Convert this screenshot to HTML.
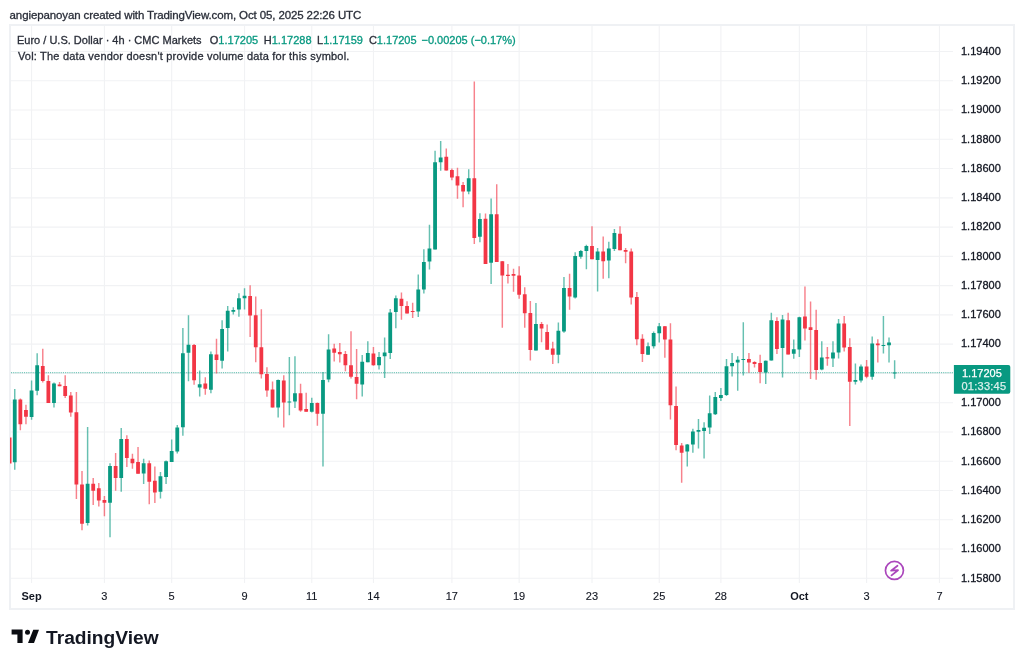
<!DOCTYPE html>
<html><head><meta charset="utf-8"><style>
html,body{margin:0;padding:0;background:#fff;width:1024px;height:665px;overflow:hidden}
svg{position:absolute;left:0;top:0;will-change:transform;font-family:"Liberation Sans",sans-serif}
</style></head><body>
<svg width="1024" height="665" viewBox="0 0 1024 665">
<rect x="0" y="0" width="1024" height="665" fill="#ffffff"/>
<rect x="10" y="25" width="1004" height="584" fill="#ffffff" stroke="#eff1f4" stroke-width="2"/>
<text x="9.6" y="18.6" font-size="11.5" letter-spacing="-0.115" fill="#2a2e39" stroke="#2a2e39" stroke-width="0.3">angiepanoyan created with TradingView.com, Oct 05, 2025 22:26 UTC</text>
<g stroke="#f1f2f4" stroke-width="1.1"><line x1="11" y1="51.50" x2="953" y2="51.50"/><line x1="11" y1="80.77" x2="953" y2="80.77"/><line x1="11" y1="110.03" x2="953" y2="110.03"/><line x1="11" y1="139.30" x2="953" y2="139.30"/><line x1="11" y1="168.57" x2="953" y2="168.57"/><line x1="11" y1="197.83" x2="953" y2="197.83"/><line x1="11" y1="227.10" x2="953" y2="227.10"/><line x1="11" y1="256.37" x2="953" y2="256.37"/><line x1="11" y1="285.63" x2="953" y2="285.63"/><line x1="11" y1="314.90" x2="953" y2="314.90"/><line x1="11" y1="344.17" x2="953" y2="344.17"/><line x1="11" y1="373.43" x2="953" y2="373.43"/><line x1="11" y1="402.70" x2="953" y2="402.70"/><line x1="11" y1="431.97" x2="953" y2="431.97"/><line x1="11" y1="461.23" x2="953" y2="461.23"/><line x1="11" y1="490.50" x2="953" y2="490.50"/><line x1="11" y1="519.77" x2="953" y2="519.77"/><line x1="11" y1="549.03" x2="953" y2="549.03"/><line x1="11" y1="578.30" x2="953" y2="578.30"/><line x1="31.56" y1="26" x2="31.56" y2="583"/><line x1="104.42" y1="26" x2="104.42" y2="583"/><line x1="171.67" y1="26" x2="171.67" y2="583"/><line x1="244.53" y1="26" x2="244.53" y2="583"/><line x1="311.78" y1="26" x2="311.78" y2="583"/><line x1="373.43" y1="26" x2="373.43" y2="583"/><line x1="451.89" y1="26" x2="451.89" y2="583"/><line x1="519.14" y1="26" x2="519.14" y2="583"/><line x1="591.99" y1="26" x2="591.99" y2="583"/><line x1="659.24" y1="26" x2="659.24" y2="583"/><line x1="720.89" y1="26" x2="720.89" y2="583"/><line x1="799.35" y1="26" x2="799.35" y2="583"/><line x1="866.60" y1="26" x2="866.60" y2="583"/><line x1="939.46" y1="26" x2="939.46" y2="583"/></g>
<line x1="11" y1="372.71" x2="953" y2="372.71" stroke="#089981" stroke-width="1" stroke-dasharray="0.93 0.93" stroke-opacity="0.75"/>
<path d="M14.75 388.9V469.8 M31.56 380.6V419.7 M37.17 353.2V395.3 M53.98 382.4V407.4 M87.61 426.9V525.5 M110.02 463.3V537.3 M121.23 428.1V491.7 M143.65 458.8V484.1 M160.46 472.0V498.5 M166.07 460.6V484.1 M171.67 439.5V461.9 M177.27 425.0V453.4 M182.88 328.0V435.7 M188.48 315.3V381.2 M199.69 370.4V396.6 M210.90 351.4V393.3 M222.11 320.2V368.6 M227.71 306.0V351.4 M233.32 307.3V314.6 M238.92 293.3V316.7 M244.53 288.2V309.6 M278.15 379.5V417.4 M289.36 357.0V415.3 M294.97 356.3V407.9 M311.78 397.8V412.5 M322.99 372.1V466.4 M328.59 334.2V382.2 M362.22 355.0V396.6 M367.82 341.3V362.2 M379.03 352.0V369.6 M384.63 337.4V378.0 M390.24 309.1V358.9 M395.84 295.4V328.2 M418.26 274.4V316.9 M423.86 249.2V293.4 M429.47 224.8V269.5 M435.07 150.8V249.6 M440.68 141.0V170.8 M468.70 169.2V194.3 M479.91 213.3V242.3 M491.12 198.5V283.9 M535.95 302.9V350.5 M558.37 322.4V363.3 M563.97 276.9V332.7 M575.18 252.2V298.5 M580.78 250.1V258.8 M586.39 244.8V269.3 M597.60 248.1V291.4 M608.81 241.8V278.2 M614.41 229.1V251.1 M648.04 342.5V354.8 M653.64 331.6V348.6 M659.24 323.0V342.5 M687.27 444.0V466.6 M692.87 428.7V452.7 M698.47 419.1V448.5 M704.08 422.3V458.4 M709.68 395.6V434.1 M715.29 392.0V415.1 M720.89 388.1V401.0 M726.50 359.1V396.0 M732.10 353.0V376.4 M737.70 356.2V390.7 M743.31 322.3V375.4 M765.73 360.5V383.9 M771.33 312.8V360.5 M782.54 315.1V377.4 M793.75 339.4V358.7 M799.35 316.8V357.0 M821.77 341.3V370.2 M832.98 341.3V366.9 M838.58 318.9V358.6 M855.40 363.5V384.6 M861.00 364.4V382.6 M872.21 336.6V379.7 M883.42 315.9V353.5 M889.02 337.4V362.6 M894.63 360.3V378.8" stroke="#089981" stroke-width="1.45" stroke-opacity="0.62" fill="none"/><path d="M20.35 398.6V430.2 M25.96 404.7V424.2 M42.77 348.7V382.4 M48.38 375.3V402.9 M59.58 382.1V386.3 M65.19 375.3V397.9 M70.79 391.9V416.7 M76.40 391.9V499.1 M82.00 471.0V530.3 M93.21 477.9V504.9 M98.81 482.9V506.5 M104.42 496.1V516.3 M115.63 453.0V490.8 M126.84 435.3V466.9 M132.44 453.8V468.7 M138.04 447.1V473.8 M149.25 460.6V504.3 M154.86 466.6V503.0 M194.09 343.9V384.8 M205.30 377.3V394.8 M216.50 338.8V373.6 M250.13 285.2V337.0 M255.73 296.4V362.3 M261.34 309.2V378.4 M266.94 367.3V396.8 M272.55 381.6V407.5 M283.76 375.3V427.5 M300.57 383.7V411.7 M306.17 392.7V411.7 M317.38 402.6V425.8 M334.20 343.7V361.6 M339.80 343.0V362.6 M345.40 351.0V371.2 M351.01 331.3V378.4 M356.61 349.0V399.2 M373.43 347.1V365.7 M401.45 292.5V319.8 M407.05 301.3V313.4 M412.66 302.8V317.9 M446.28 148.4V170.6 M451.89 168.4V180.2 M457.49 167.8V198.8 M463.09 182.0V207.2 M474.30 81.6V244.0 M485.51 213.4V263.9 M496.72 184.2V262.0 M502.32 260.9V327.7 M507.93 264.1V283.4 M513.53 268.7V291.7 M519.14 266.3V298.8 M524.74 287.2V327.7 M530.35 301.0V360.5 M541.55 321.9V342.3 M547.16 324.4V349.7 M552.76 341.8V364.1 M569.58 273.8V309.8 M591.99 226.3V259.3 M603.20 236.5V278.7 M620.01 226.3V250.2 M625.62 248.1V263.3 M631.22 248.4V304.4 M636.83 291.9V345.3 M642.43 334.3V361.9 M664.85 326.0V357.7 M670.45 323.3V419.6 M676.06 386.6V450.3 M681.66 443.1V482.8 M748.91 353.0V372.7 M754.52 361.2V367.5 M760.12 354.8V383.2 M776.93 317.2V354.0 M788.14 312.8V354.4 M804.96 286.6V340.4 M810.56 301.5V379.0 M816.16 309.8V379.7 M827.37 347.1V365.8 M844.19 316.1V351.5 M849.79 338.3V426.0 M866.60 360.0V378.3 M877.81 339.3V362.6" stroke="#F23645" stroke-width="1.45" stroke-opacity="0.62" fill="none"/><path d="M12.85 399.4h3.8v62.8h-3.8z M29.66 390.4h3.8v26.6h-3.8z M35.27 365.3h3.8v25.5h-3.8z M52.08 383.6h3.8v19.3h-3.8z M85.71 483.7h3.8v39.2h-3.8z M108.12 466.0h3.8v36.7h-3.8z M119.33 439.0h3.8v39.1h-3.8z M141.75 463.3h3.8v10.3h-3.8z M158.56 476.3h3.8v15.5h-3.8z M164.17 461.2h3.8v15.7h-3.8z M169.77 451.0h3.8v10.9h-3.8z M175.37 427.6h3.8v24.0h-3.8z M180.98 353.2h3.8v74.0h-3.8z M186.58 344.8h3.8v7.9h-3.8z M197.79 384.3h3.8v3.2h-3.8z M209.00 354.2h3.8v35.5h-3.8z M220.21 328.9h3.8v31.9h-3.8z M225.81 310.7h3.8v17.3h-3.8z M231.42 310.0h3.8v1.8h-3.8z M237.02 298.2h3.8v11.4h-3.8z M242.63 295.7h3.8v2.6h-3.8z M276.25 380.1h3.8v27.4h-3.8z M287.46 401.6h3.8v1.0h-3.8z M293.07 393.2h3.8v8.4h-3.8z M309.88 403.1h3.8v8.6h-3.8z M321.09 380.1h3.8v33.7h-3.8z M326.69 349.4h3.8v30.1h-3.8z M360.32 361.8h3.8v22.8h-3.8z M365.92 353.0h3.8v9.2h-3.8z M377.13 356.9h3.8v8.4h-3.8z M382.73 352.4h3.8v3.9h-3.8z M388.34 312.6h3.8v40.4h-3.8z M393.94 298.3h3.8v13.7h-3.8z M416.36 289.5h3.8v21.9h-3.8z M421.96 262.0h3.8v27.5h-3.8z M427.57 248.5h3.8v13.1h-3.8z M433.17 162.2h3.8v87.4h-3.8z M438.78 157.6h3.8v4.7h-3.8z M466.80 178.2h3.8v13.2h-3.8z M478.01 218.9h3.8v17.8h-3.8z M489.22 214.3h3.8v48.4h-3.8z M534.05 324.1h3.8v26.4h-3.8z M556.47 330.7h3.8v24.0h-3.8z M562.07 287.9h3.8v43.5h-3.8z M573.28 256.0h3.8v41.4h-3.8z M578.88 250.9h3.8v5.8h-3.8z M584.49 246.1h3.8v5.0h-3.8z M595.70 251.4h3.8v8.6h-3.8z M606.91 248.4h3.8v12.1h-3.8z M612.51 232.9h3.8v16.0h-3.8z M646.14 346.2h3.8v8.6h-3.8z M651.74 332.9h3.8v13.3h-3.8z M657.34 326.3h3.8v7.0h-3.8z M685.37 444.4h3.8v7.2h-3.8z M690.97 431.4h3.8v13.0h-3.8z M696.57 429.9h3.8v1.8h-3.8z M702.18 427.8h3.8v3.2h-3.8z M707.78 413.3h3.8v14.1h-3.8z M713.39 397.1h3.8v17.1h-3.8z M718.99 394.9h3.8v3.1h-3.8z M724.60 366.2h3.8v28.7h-3.8z M730.20 362.9h3.8v3.3h-3.8z M735.80 359.8h3.8v2.7h-3.8z M741.41 359.1h3.8v1.0h-3.8z M763.83 360.8h3.8v11.6h-3.8z M769.43 320.2h3.8v40.3h-3.8z M780.64 319.6h3.8v28.4h-3.8z M791.85 349.3h3.8v4.4h-3.8z M797.45 317.3h3.8v32.3h-3.8z M819.87 357.5h3.8v11.9h-3.8z M831.08 352.4h3.8v6.2h-3.8z M836.68 323.4h3.8v29.1h-3.8z M853.50 380.0h3.8v1.7h-3.8z M859.10 366.4h3.8v14.0h-3.8z M870.31 343.4h3.8v33.4h-3.8z M881.52 344.9h3.8v1.0h-3.8z M887.12 342.6h3.8v2.7h-3.8z M892.73 372.4h3.8v1.0h-3.8z" fill="#089981"/><path d="M18.45 399.4h3.8v24.8h-3.8z M24.06 410.0h3.8v6.7h-3.8z M40.87 365.9h3.8v15.0h-3.8z M46.48 380.9h3.8v22.0h-3.8z M57.68 384.4h3.8v1.9h-3.8z M63.29 385.9h3.8v10.0h-3.8z M68.89 395.6h3.8v17.0h-3.8z M74.50 412.2h3.8v72.3h-3.8z M80.10 484.5h3.8v39.2h-3.8z M91.31 483.7h3.8v7.1h-3.8z M96.91 488.2h3.8v12.4h-3.8z M102.52 499.9h3.8v2.8h-3.8z M113.73 466.0h3.8v12.1h-3.8z M124.94 439.0h3.8v18.9h-3.8z M130.54 458.8h3.8v4.5h-3.8z M136.14 461.9h3.8v11.9h-3.8z M147.35 463.3h3.8v18.4h-3.8z M152.96 480.8h3.8v11.8h-3.8z M192.19 345.1h3.8v35.2h-3.8z M203.40 383.4h3.8v5.4h-3.8z M214.60 354.5h3.8v5.6h-3.8z M248.23 295.9h3.8v19.7h-3.8z M253.83 315.2h3.8v32.1h-3.8z M259.44 347.3h3.8v26.9h-3.8z M265.04 373.9h3.8v16.7h-3.8z M270.65 389.4h3.8v18.1h-3.8z M281.86 380.5h3.8v22.1h-3.8z M298.67 393.2h3.8v17.2h-3.8z M304.27 408.9h3.8v2.8h-3.8z M315.48 403.1h3.8v10.7h-3.8z M332.30 348.5h3.8v4.2h-3.8z M337.90 352.1h3.8v2.1h-3.8z M343.50 353.9h3.8v11.4h-3.8z M349.11 365.3h3.8v11.5h-3.8z M354.71 377.1h3.8v6.6h-3.8z M371.53 353.6h3.8v11.7h-3.8z M399.55 298.7h3.8v7.4h-3.8z M405.15 306.1h3.8v7.3h-3.8z M410.76 311.0h3.8v1.0h-3.8z M444.38 156.7h3.8v13.8h-3.8z M449.99 170.1h3.8v7.3h-3.8z M455.59 176.2h3.8v9.4h-3.8z M461.19 185.1h3.8v6.3h-3.8z M472.40 178.2h3.8v59.7h-3.8z M483.61 218.8h3.8v45.1h-3.8z M494.82 214.3h3.8v47.7h-3.8z M500.42 261.3h3.8v14.3h-3.8z M506.03 274.8h3.8v1.2h-3.8z M511.63 274.0h3.8v1.7h-3.8z M517.24 275.4h3.8v19.3h-3.8z M522.84 294.2h3.8v19.0h-3.8z M528.45 312.9h3.8v37.1h-3.8z M539.65 324.1h3.8v4.5h-3.8z M545.26 331.9h3.8v17.8h-3.8z M550.86 348.4h3.8v6.3h-3.8z M567.68 287.9h3.8v8.6h-3.8z M590.09 246.1h3.8v13.2h-3.8z M601.30 251.4h3.8v9.9h-3.8z M618.11 233.7h3.8v16.5h-3.8z M623.72 250.1h3.8v1.6h-3.8z M629.32 251.4h3.8v46.0h-3.8z M634.93 296.9h3.8v42.3h-3.8z M640.53 338.7h3.8v15.4h-3.8z M662.95 326.3h3.8v13.2h-3.8z M668.55 339.5h3.8v65.7h-3.8z M674.16 406.1h3.8v38.8h-3.8z M679.76 445.5h3.8v7.2h-3.8z M747.01 359.1h3.8v3.4h-3.8z M752.62 362.1h3.8v1.8h-3.8z M758.22 362.9h3.8v9.1h-3.8z M775.03 321.0h3.8v28.0h-3.8z M786.24 320.2h3.8v34.2h-3.8z M803.06 316.4h3.8v12.1h-3.8z M808.66 327.2h3.8v2.8h-3.8z M814.26 330.0h3.8v39.9h-3.8z M825.47 357.3h3.8v1.3h-3.8z M842.29 323.4h3.8v24.1h-3.8z M847.89 347.1h3.8v34.6h-3.8z M864.70 366.6h3.8v10.2h-3.8z M875.91 343.4h3.8v1.9h-3.8z M10 437.4h1.5v26.1h-1.5z" fill="#F23645"/>
<g font-size="11" fill="#2a2e39" stroke="#2a2e39" stroke-width="0.3">
<text x="17" y="44.1">Euro / U.S. Dollar · 4h · CMC Markets</text>
<text x="209.8" y="44.1">O<tspan fill="#089981" stroke="#089981">1.17205</tspan></text>
<text x="263.8" y="44.1">H<tspan fill="#089981" stroke="#089981">1.17288</tspan></text>
<text x="317" y="44.1">L<tspan fill="#089981" stroke="#089981">1.17159</tspan></text>
<text x="368.9" y="44.1">C<tspan fill="#089981" stroke="#089981">1.17205</tspan></text>
<text x="421.5" y="44.1" fill="#089981" stroke="#089981">&#8722;0.00205 (&#8722;0.17%)</text>
<text x="17.9" y="59.5" letter-spacing="0.2">Vol: The data vendor doesn't provide volume data for this symbol.</text>
</g>
<g font-size="11" fill="#131722" stroke="#131722" stroke-width="0.3"><text x="961" y="54.80">1.19400</text><text x="961" y="84.07">1.19200</text><text x="961" y="113.33">1.19000</text><text x="961" y="142.60">1.18800</text><text x="961" y="171.87">1.18600</text><text x="961" y="201.13">1.18400</text><text x="961" y="230.40">1.18200</text><text x="961" y="259.67">1.18000</text><text x="961" y="288.93">1.17800</text><text x="961" y="318.20">1.17600</text><text x="961" y="347.47">1.17400</text><text x="961" y="376.73">1.17200</text><text x="961" y="406.00">1.17000</text><text x="961" y="435.27">1.16800</text><text x="961" y="464.53">1.16600</text><text x="961" y="493.80">1.16400</text><text x="961" y="523.07">1.16200</text><text x="961" y="552.33">1.16000</text><text x="961" y="581.60">1.15800</text></g>
<g font-size="11" fill="#131722" stroke="#131722" stroke-width="0.12" text-anchor="middle"><text x="31.56" y="600" font-weight="bold" stroke-width="0">Sep</text><text x="104.42" y="600">3</text><text x="171.67" y="600">5</text><text x="244.53" y="600">9</text><text x="311.78" y="600">11</text><text x="373.43" y="600">14</text><text x="451.89" y="600">17</text><text x="519.14" y="600">19</text><text x="591.99" y="600">23</text><text x="659.24" y="600">25</text><text x="720.89" y="600">28</text><text x="799.35" y="600" font-weight="bold" stroke-width="0">Oct</text><text x="866.60" y="600">3</text><text x="939.46" y="600">7</text></g>
<path d="M953.9 365h54.4a2 2 0 0 1 2 2v24.7a2 2 0 0 1-2 2h-54.4z" fill="#089981"/>
<text x="962" y="376.6" font-size="11" fill="#fff" stroke="#fff" stroke-width="0.25">1.17205</text>
<text x="961.5" y="390.3" font-size="11" letter-spacing="0.25" fill="#fff" stroke="#fff" stroke-width="0.25" opacity="0.85">01:33:45</text>
<circle cx="894.43" cy="570.43" r="9.0" fill="#fff" stroke="#AB47BC" stroke-width="1.7"/>
<path d="M897.5 565.8L891.1 570.7L898.0 570.2L891.5 575.4" fill="none" stroke="#AB47BC" stroke-width="1.75" stroke-linejoin="round" stroke-linecap="round"/>
<path d="M11.6 629.6H22.6V643.1H17.4V634.6H11.6Z M33.25 629.7H39.0L34.0 643.1H28.0Z" fill="#0b0d12"/><circle cx="27.5" cy="632.2" r="2.5" fill="#0b0d12"/>
<text x="46" y="643.5" font-size="19.2" font-weight="bold" fill="#131722">TradingView</text>
</svg>
</body></html>
